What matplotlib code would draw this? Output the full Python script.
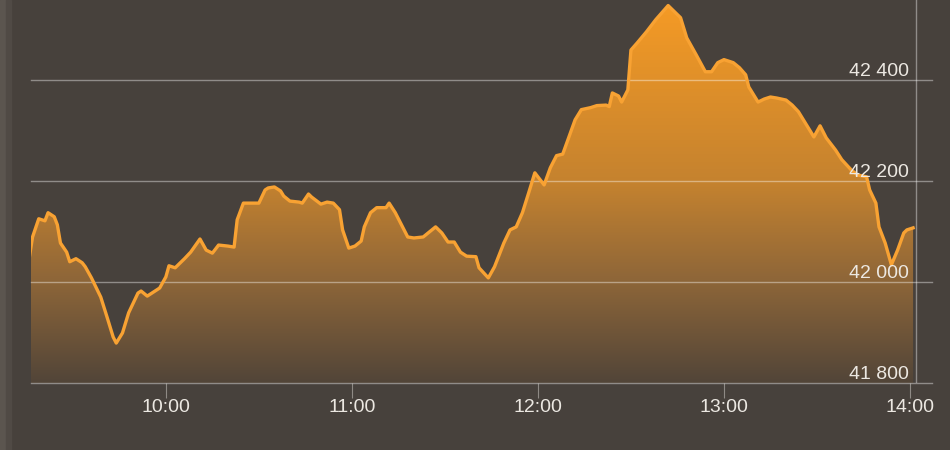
import numpy as np
import matplotlib
matplotlib.use("Agg")
import matplotlib.pyplot as plt
from matplotlib import transforms
from matplotlib.colors import LinearSegmentedColormap
from matplotlib.patches import Rectangle

# ----------------------------------------------------------------------------#
# DATA (index level vs. time of day)
# ----------------------------------------------------------------------------#
times = [
    "09:16", "09:17", "09:19", "09:20", "09:21", "09:22", "09:24", "09:25",
    "09:26", "09:28", "09:29", "09:31", "09:33", "09:34", "09:36", "09:39",
    "09:41", "09:43", "09:44", "09:46", "09:48", "09:51", "09:52", "09:54",
    "09:56", "09:58", "10:00", "10:01", "10:03", "10:06", "10:08", "10:11",
    "10:13", "10:15", "10:17", "10:20", "10:22", "10:23", "10:25", "10:28",
    "10:30", "10:32", "10:33", "10:35", "10:37", "10:38", "10:40", "10:43",
    "10:44", "10:46", "10:47", "10:50", "10:52", "10:54", "10:56", "10:57",
    "10:59", "11:01", "11:03", "11:04", "11:06", "11:08", "11:11", "11:12",
    "11:14", "11:16", "11:18", "11:20", "11:23", "11:25", "11:27", "11:29",
    "11:31", "11:33", "11:35", "11:37", "11:40", "11:41", "11:44", "11:46",
    "11:49", "11:51", "11:53", "11:55", "11:57", "11:59", "12:02", "12:04",
    "12:06", "12:08", "12:10", "12:12", "12:14", "12:17", "12:19", "12:22",
    "12:23", "12:24", "12:26", "12:27", "12:29", "12:30", "12:32", "12:35",
    "12:38", "12:40", "12:42", "12:44", "12:46", "12:48", "12:51", "12:54",
    "12:56", "12:58", "13:00", "13:03", "13:05", "13:07", "13:08", "13:11",
    "13:13", "13:15", "13:17", "13:20", "13:22", "13:24", "13:26", "13:29",
    "13:31", "13:33", "13:36", "13:38", "13:41", "13:43", "13:46", "13:47",
    "13:49", "13:50", "13:52", "13:54", "13:56", "13:58", "13:59", "14:01",
]
values = [
    42050, 42089, 42125, 42123, 42121, 42137, 42129, 42113,
    42077, 42059, 42040, 42046, 42038, 42030, 42008, 41970,
    41931, 41891, 41879, 41899, 41939, 41978, 41982, 41972,
    41980, 41988, 42010, 42032, 42028, 42046, 42059, 42085,
    42063, 42057, 42073, 42071, 42069, 42123, 42156, 42156,
    42156, 42182, 42186, 42188, 42180, 42170, 42160, 42158,
    42156, 42174, 42168, 42154, 42158, 42156, 42143, 42103,
    42067, 42071, 42081, 42109, 42137, 42147, 42147, 42156,
    42137, 42113, 42089, 42087, 42089, 42099, 42109, 42097,
    42079, 42079, 42059, 42051, 42050, 42028, 42008, 42030,
    42077, 42103, 42109, 42137, 42176, 42216, 42192, 42226,
    42250, 42253, 42287, 42321, 42341, 42345, 42349, 42350,
    42347, 42374, 42368, 42356, 42380, 42459, 42473, 42495,
    42519, 42533, 42547, 42535, 42523, 42483, 42450, 42416,
    42416, 42434, 42440, 42434, 42424, 42410, 42386, 42356,
    42362, 42366, 42364, 42360, 42350, 42337, 42317, 42287,
    42309, 42285, 42261, 42242, 42222, 42212, 42208, 42182,
    42156, 42109, 42077, 42034, 42063, 42097, 42103, 42107,
]

x_ticks = ["10:00", "11:00", "12:00", "13:00", "14:00"]
y_ticks = [41800, 42000, 42200, 42400]
y_labels = ["41 800", "42 000", "42 200", "42 400"]

# ----------------------------------------------------------------------------#
# STYLE
# ----------------------------------------------------------------------------#
BG = "#47413c"
LINE = "#f8a233"
TEXT = "#ece8e2"
X_MIN, X_MAX = 16.5, 307.1       # minutes after 09:00
Y_MIN, Y_MAX = 41800, 42558
NOW_MARK = 302                   # vertical marker line (minutes)

plt.rcParams["font.family"] = ["Liberation Sans", "DejaVu Sans"]


def to_minutes(hhmm):
    h, m = hhmm.split(":")
    return (int(h) - 9) * 60 + int(m)


t = np.array([to_minutes(s) for s in times], dtype=float)
v = np.array(values, dtype=float)

fig = plt.figure(figsize=(9.5, 4.5), dpi=100, facecolor=BG)
fig.patches.append(Rectangle((0, 0), 6 / 950, 1, transform=fig.transFigure,
                             color="#5b554f", zorder=0))
fig.patches.append(Rectangle((6 / 950, 0), 5 / 950, 1, transform=fig.transFigure,
                             color="#504a45", zorder=0))

ax = fig.add_axes([31 / 950, 67 / 450, 901 / 950, 383 / 450])
ax.set_facecolor(BG)
ax.set_xlim(X_MIN, X_MAX)
ax.set_ylim(Y_MIN, Y_MAX)

# gradient fill under the curve
cmap = LinearSegmentedColormap.from_list(
    "fade", [(0.0, "#524538"), (0.26, "#8c6539"), (0.52, "#c4822f"), (1.0, "#f69b25")]
)
poly = ax.fill_between(t, v, Y_MIN, color="none", lw=0)
grad = ax.imshow(np.linspace(0, 1, 256).reshape(-1, 1), cmap=cmap, aspect="auto",
                 origin="lower", extent=[X_MIN, X_MAX, Y_MIN, Y_MAX], zorder=1)
grad.set_clip_path(poly.get_paths()[0], transform=ax.transData)

for yv in y_ticks:
    ax.axhline(yv, color="white", alpha=0.4, lw=1, zorder=2, clip_on=False)
ax.axvline(NOW_MARK, color="white", alpha=0.4, lw=1, zorder=2)

ax.plot(t, v, color=LINE, lw=2.4, zorder=3, solid_joinstyle="round")

# y labels sit just above their gridline, right-aligned inside the plot
lab_tr = transforms.offset_copy(
    transforms.blended_transform_factory(ax.transAxes, ax.transData),
    fig=fig, y=4, units="dots")
for yv, lab in zip(y_ticks, y_labels):
    ax.text(878 / 901, yv, lab, transform=lab_tr, ha="right", va="baseline",
            color=TEXT, fontsize=14, zorder=4)

ax.set_xticks([to_minutes(s) for s in x_ticks], x_ticks)
ax.set_yticks([])
ax.tick_params(axis="x", length=10.8, width=0.8, color="#8f8a85", pad=1,
               labelsize=14, labelcolor=TEXT)
for s in ax.spines.values():
    s.set_visible(False)

fig.savefig("out.png", dpi=100, facecolor=BG)
